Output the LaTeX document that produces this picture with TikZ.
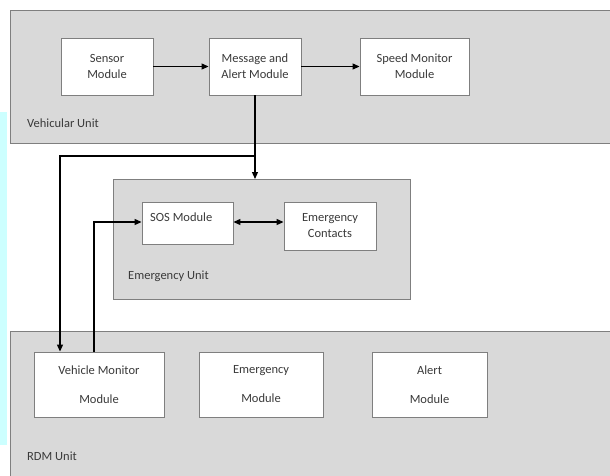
\documentclass[tikz,border=0pt]{standalone}
\usepackage{fontspec}
\setmainfont{Carlito}
\usetikzlibrary{arrows.meta}
\definecolor{unitgray}{HTML}{D9D9D9}
\definecolor{edgegray}{HTML}{7F7F7F}
\definecolor{stripcyan}{HTML}{CCFFFF}
\definecolor{txtgray}{HTML}{3A3A3A}
\tikzset{
  unitbox/.style={draw=edgegray, fill=unitgray, line width=0.9pt},
  modbox/.style={draw=edgegray, fill=white, line width=0.9pt, align=center, inner sep=0pt, text=txtgray, font=\fontsize{12.5}{16}\selectfont},
  lbl/.style={anchor=west, inner sep=0pt, text=txtgray, font=\fontsize{12.5}{15}\selectfont},
  conn/.style={line width=1.2pt, black},
  arr/.style={conn, -{Triangle[length=7pt,width=6pt]}},
  darr/.style={conn, {Triangle[length=7pt,width=6pt]}-{Triangle[length=7pt,width=6pt]}}
}
\begin{document}
\begin{tikzpicture}[x=1pt,y=-1pt]
\useasboundingbox (0,0) rectangle (610,475);
\fill[stripcyan] (0,112) rectangle (7,445);
% units
\draw[unitbox] (10,10) rectangle (612,143);
\draw[unitbox] (113,179) rectangle (410,299);
\draw[unitbox] (10,331) rectangle (612,477);
\node[lbl] (vu) at (27,123) {Vehicular Unit};
\node[lbl] (eu) at (128,276) {Emergency Unit};
\node[lbl] (ru) at (27,456) {RDM Unit};
% vehicular modules
\node[modbox, minimum width=92pt, minimum height=57pt] (sensor) at (107,66.5) {Sensor\\Module};
\node[modbox, minimum width=92pt, minimum height=57pt] (msg) at (255,66.5) {Message and\\Alert Module};
\node[modbox, minimum width=109pt, minimum height=57pt] (speed) at (414.5,66.5) {Speed Monitor\\Module};
% emergency modules
\node[modbox, minimum width=91pt, minimum height=42pt] (sos) at (187.5,223) {};
\node[lbl] (sostext) at (150,217) {SOS Module};
\node[modbox, minimum width=92pt, minimum height=48pt] (contacts) at (330,226) {Emergency\\Contacts};
% rdm modules
\node[modbox, minimum width=130pt, minimum height=65pt, font=\fontsize{12.5}{29}\selectfont] (vmm) at (99,384.5) {Vehicle Monitor\\Module};
\node[modbox, minimum width=124pt, minimum height=65pt, font=\fontsize{12.5}{29}\selectfont] (emm) at (261,384.5) {Emergency\\Module};
\node[modbox, minimum width=115pt, minimum height=65pt, font=\fontsize{12.5}{29}\selectfont] (alm) at (429.5,384.5) {Alert\\Module};
% connectors
\coordinate (j) at (255,156);
\coordinate (jl) at (60,156);
\coordinate (k) at (94,222);
\draw[arr] (sensor.east) -- (msg.west);
\draw[arr] (msg.east) -- (speed.west);
\draw[conn] (msg.south) -- (j);
\draw[arr] (j) -- (255,179);
\draw[arr] (j) -- (jl) -- (vmm.north -| jl);
\draw[arr] (vmm.north -| k) -- (k) -- (sos.west |- k);
\draw[darr] (sos.east |- k) -- (contacts.west |- k);
\end{tikzpicture}
\end{document}
